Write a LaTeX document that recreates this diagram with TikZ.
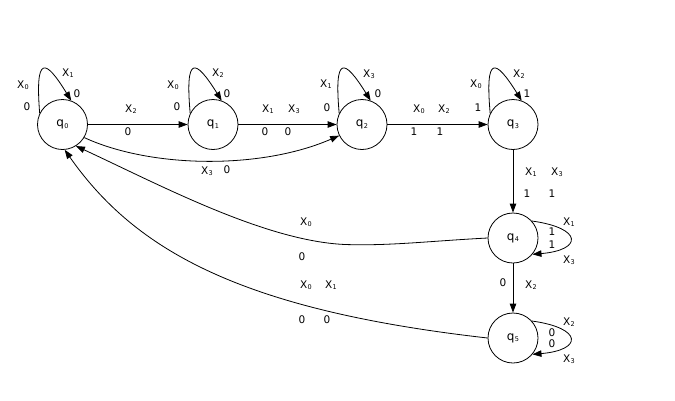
\documentclass[tikz,border=0pt]{standalone}
\usepackage{fontspec}
\setmainfont{DejaVu Sans}
\usetikzlibrary{arrows.meta}
\newcommand\Xsub[2]{#1\kern0.4pt\raisebox{-1.5pt}{\fontsize{6.5}{7}\selectfont #2}}
\tikzset{
  state/.style={circle,draw,line width=0.8pt,minimum size=50pt,inner sep=0pt,font=\fontsize{12}{13}\selectfont},
  lbl/.style={inner sep=0pt,font=\fontsize{10.5}{11}\selectfont},
  arr/.style={line width=0.8pt,-{Triangle[length=9pt,width=6.5pt]}}
}
\begin{document}
\begin{tikzpicture}[x=1pt,y=-1pt]
\useasboundingbox (0,0) rectangle (675,400);
% states
\node[state] (q0) at (62.5,124.5) {\Xsub{q}{0}};
\node[state] (q1) at (213,124.5) {\Xsub{q}{1}};
\node[state] (q2) at (362,124.5) {\Xsub{q}{2}};
\node[state] (q3) at (513,124.5) {\Xsub{q}{3}};
\node[state] (q4) at (513,238) {\Xsub{q}{4}};
\node[state] (q5) at (513,338) {\Xsub{q}{5}};
% self loops on top
\draw[arr] (q0.154) .. controls (35,55) and (45,58) .. (q0.70);
\draw[arr] (q1.154) .. controls (185,55) and (195,58) .. (q1.70);
\draw[arr] (q2.154) .. controls (334,55) and (344,58) .. (q2.70);
\draw[arr] (q3.154) .. controls (485,55) and (495,58) .. (q3.70);
% self loops on right
\draw[arr] (q4.42) .. controls (583,228) and (583,250) .. (q4.-40);
\draw[arr] (q5.42) .. controls (583,328) and (583,350) .. (q5.-40);
% straight edges
\draw[arr] (q0.east) -- (q1.west);
\draw[arr] (q1.east) -- (q2.west);
\draw[arr] (q2.east) -- (q3.west);
\draw[arr] (q3.south) -- (q4.north);
\draw[arr] (q4.south) -- (q5.north);
% curved edges
\draw[arr] (q0.-31) .. controls (150,168) and (260,170) .. (q2.206);
\draw[arr] (q4.west) .. controls (430,241) and (390,246) .. (345,244.5)
  .. controls (265,241) and (160,185) .. (q0.-58);
\draw[arr] (q5.west) .. controls (240,310) and (135,250) .. (q0.-85);
% labels: q0 loop
\node[lbl] (a1) at (23,85) {\Xsub{X}{0}};
\node[lbl] (a2) at (27,107) {0};
\node[lbl] (a3) at (68,73) {\Xsub{X}{1}};
\node[lbl] (a4) at (77,94) {0};
% q1 loop
\node[lbl] (b1) at (173,85) {\Xsub{X}{0}};
\node[lbl] (b2) at (177,107) {0};
\node[lbl] (b3) at (218,73) {\Xsub{X}{2}};
\node[lbl] (b4) at (227,94) {0};
% q2 loop
\node[lbl] (c1) at (326,84) {\Xsub{X}{1}};
\node[lbl] (c2) at (327,108) {0};
\node[lbl] (c3) at (369,74) {\Xsub{X}{3}};
\node[lbl] (c4) at (378,94) {0};
% q3 loop
\node[lbl] (d1) at (476,84) {\Xsub{X}{0}};
\node[lbl] (d2) at (478,108) {1};
\node[lbl] (d3) at (519,74) {\Xsub{X}{2}};
\node[lbl] (d4) at (527,94) {1};
% q0 -> q1
\node[lbl] (e1) at (131,109) {\Xsub{X}{2}};
\node[lbl] (e2) at (128,132) {0};
% q1 -> q2
\node[lbl] (f1) at (268,109) {\Xsub{X}{1}};
\node[lbl] (f2) at (294,109) {\Xsub{X}{3}};
\node[lbl] (f3) at (265,132) {0};
\node[lbl] (f4) at (288,132) {0};
% q2 -> q3
\node[lbl] (g1) at (419,109) {\Xsub{X}{0}};
\node[lbl] (g2) at (444,109) {\Xsub{X}{2}};
\node[lbl] (g3) at (414,132) {1};
\node[lbl] (g4) at (440,132) {1};
% q0 -> q2
\node[lbl] (h1) at (207,171) {\Xsub{X}{3}};
\node[lbl] (h2) at (227,170) {0};
% q3 -> q4
\node[lbl] (i1) at (531,172) {\Xsub{X}{1}};
\node[lbl] (i2) at (557,172) {\Xsub{X}{3}};
\node[lbl] (i3) at (527,194) {1};
\node[lbl] (i4) at (552,194) {1};
% q4 loop
\node[lbl] (j1) at (569,222) {\Xsub{X}{1}};
\node[lbl] (j2) at (552,232) {1};
\node[lbl] (j3) at (552,245) {1};
\node[lbl] (j4) at (569,260) {\Xsub{X}{3}};
% q4 -> q5
\node[lbl] (k1) at (503,283) {0};
\node[lbl] (k2) at (531,285) {\Xsub{X}{2}};
% q5 loop
\node[lbl] (m1) at (569,322) {\Xsub{X}{2}};
\node[lbl] (m2) at (552,333) {0};
\node[lbl] (m3) at (552,344) {0};
\node[lbl] (m4) at (569,359) {\Xsub{X}{3}};
% q4 -> q0
\node[lbl] (n1) at (306,222) {\Xsub{X}{0}};
\node[lbl] (n2) at (302,257) {0};
% q5 -> q0
\node[lbl] (p1) at (306,285) {\Xsub{X}{0}};
\node[lbl] (p2) at (331,285) {\Xsub{X}{1}};
\node[lbl] (p3) at (302,320) {0};
\node[lbl] (p4) at (327,320) {0};
\end{tikzpicture}
\end{document}
